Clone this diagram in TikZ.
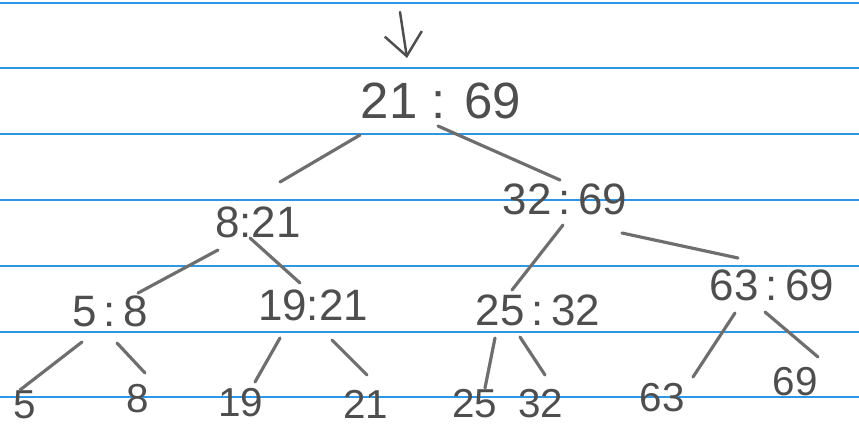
\documentclass[tikz,border=0pt]{standalone}
\usepackage{fontspec}
\setmainfont{Liberation Sans}
\usetikzlibrary{arrows.meta,calc}
\definecolor{rule}{HTML}{2F96E6}
\definecolor{pencil}{HTML}{6E6E6E}
\definecolor{lead}{HTML}{4E4E4E}

\begin{document}
\begin{tikzpicture}[x=0.02cm, y=-0.02cm,
    key/.style={text=lead, inner sep=0pt, font=\fontsize{25}{27}\selectfont},
    top/.style={key, font=\fontsize{29}{31}\selectfont},
    leaf/.style={key, font=\fontsize{23}{25}\selectfont},
    edge/.style={draw=pencil, line width=1.8pt, line cap=round},
    feed/.style={draw=lead, line width=1.4pt, line cap=round, -{Straight Barb[length=4.5mm, width=7.5mm, line width=1.4pt]}},
    ruled/.style={draw=rule, line width=1.2pt},
  ]
% --- Paper ---------------------------------------------------------------------
\fill[white] (0,0) rectangle (859,427);
\useasboundingbox (0,0) rectangle (859,427);
\foreach \y in {3,68,134,200,266,332,397}
  \draw[ruled] (0,\y) -- (859,\y);

% --- Keys ----------------------------------------------------------------------
\node[top] (root) at (441,101) {21 : 69};
\node[key] (n821) at (258,222) {8:21};
\node[key] (n3269) at (565,199) {32\,:\,69};
\node[key] (n58) at (110,311) {5\,:\,8};
\node[key] (n1921) at (313,305) {19:21};
\node[key] (n2532) at (538,310) {25\,:\,32};
\node[key] (n6369) at (772,285) {63\,:\,69};

% --- Leaves --------------------------------------------------------------------
\node[leaf] (l5) at (25,405) {5};
\node[leaf] (l8) at (138,399) {8};
\node[leaf] (l19) at (241,403) {19};
\node[leaf] (l21) at (366,404) {21};
\node[leaf] (l25) at (475,404) {25};
\node[leaf] (l32) at (541,404) {32};
\node[leaf] (l63) at (662,398) {63};
\node[leaf] (l69) at (795,382) {69};

% --- Pencil strokes ------------------------------------------------------------
% Strokes stop short of the numbers, as drawn by hand.
\coordinate (entry) at (400,12);
\draw[feed] (entry) -- ($(root)+(-34,-43)$);
\draw[edge] ($(root)+(-81,34)$) -- ($(n821)+(22,-40)$);
\draw[edge] ($(root)+(-3,25)$) -- ($(n3269)+(-5,-19)$);
\draw[edge] ($(n821)+(-40,28)$) -- ($(n58)+(28,-18)$);
\draw[edge] ($(n821)+(-8,16)$) -- ($(n1921)+(-13,-22)$);
\draw[edge] ($(n3269)+(-2,26)$) -- ($(n2532)+(-26,-20)$);
\draw[edge] ($(n3269)+(57,34)$) -- ($(n6369)+(-34,-27)$);
\draw[edge] ($(n58)+(-28,31)$) -- ($(l5)+(-5,-15)$);
\draw[edge] ($(n58)+(7,32)$) -- ($(l8)+(7,-26)$);
\draw[edge] ($(n1921)+(-33,33)$) -- ($(l19)+(14,-21)$);
\draw[edge] ($(n1921)+(19,35)$) -- ($(l21)+(1,-29)$);
\draw[edge] ($(n2532)+(-43,28)$) -- ($(l25)+(10,-16)$);
\draw[edge] ($(n2532)+(-18,27)$) -- ($(l32)+(4,-29)$);
\draw[edge] ($(n6369)+(-37,28)$) -- ($(l63)+(31,-21)$);
\draw[edge] ($(n6369)+(-7,27)$) -- ($(l69)+(23,-25)$);
\end{tikzpicture}
\end{document}
